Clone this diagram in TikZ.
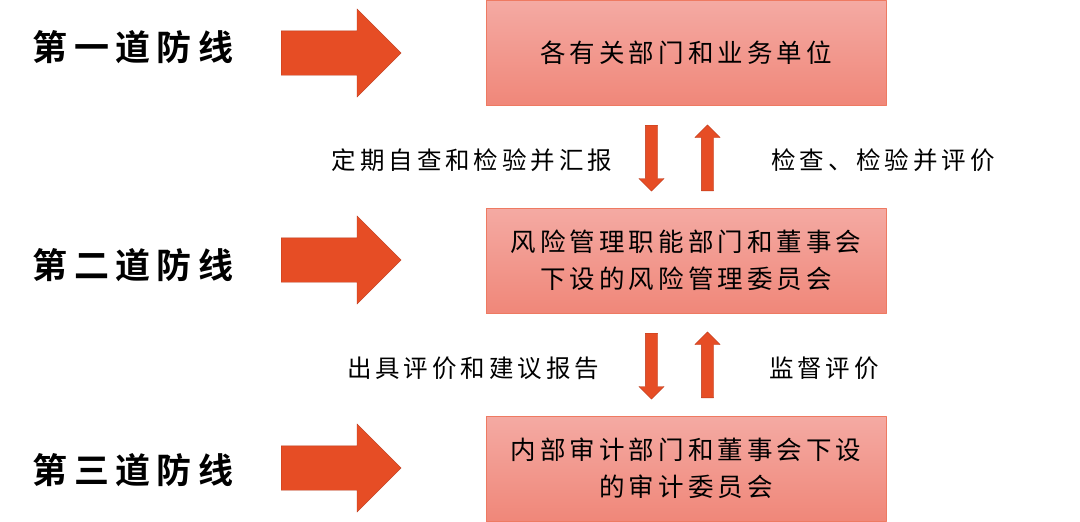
\documentclass[tikz,border=0pt]{standalone}
\usepackage{fontspec}
\usepackage{tikz}
\usetikzlibrary{shapes.arrows}
\setmainfont{Noto Sans CJK SC}
\newfontfamily\boxfont[LetterSpace=16]{Noto Sans CJK SC}
\newfontfamily\linefont[LetterSpace=18]{Noto Sans CJK SC}[BoldFont={* Bold}]
\definecolor{arrowred}{HTML}{E64D25}
\definecolor{arrowedge}{HTML}{B93A1C}
\definecolor{boxtop}{HTML}{F4AAA3}
\definecolor{boxbottom}{HTML}{F08779}
\definecolor{boxedge}{HTML}{EE7A62}

\begin{document}
\begin{tikzpicture}[
            x = 1pt, y = -1pt, % pixel coordinates
            line join = round
        ]

        \tikzstyle{unit}=[
            draw = boxedge,
            line width = 1pt,
            top color = boxtop,
            bottom color = boxbottom,
            minimum width = 400pt,
            minimum height = 105pt,
            align = center,
            font = \boxfont\fontsize{25.5pt}{37pt}\selectfont
        ]
        \tikzstyle{bigarrow}=[
            single arrow,
            draw = arrowedge,
            fill = arrowred,
            anchor = tail,
            inner xsep = 0pt,
            inner ysep = 22pt, % half the shaft
            minimum height = 120pt, % length
            single arrow head extend = 22pt
        ]
        \tikzstyle{smallarrow}=[
            single arrow,
            draw = arrowedge,
            fill = arrowred,
            anchor = tail,
            inner xsep = 0pt,
            inner ysep = 6pt,
            minimum height = 66pt,
            single arrow head extend = 6.5pt
        ]
        \tikzstyle{linename}=[font = \linefont\bfseries\fontsize{35pt}{35pt}\selectfont]
        \tikzstyle{report}=[font = \boxfont\fontsize{24.5pt}{28pt}\selectfont]

        \useasboundingbox (0,0) rectangle (1080,522);

        % the three lines of defence
        \node[linename] (l1) at (133,47) {第一道防线};
        \node[linename] (l2) at (133,265) {第二道防线};
        \node[linename] (l3) at (133,470) {第三道防线};

        \node[bigarrow] (a1) at (281,53) {};
        \node[bigarrow] (a2) at (281,260) {};
        \node[bigarrow] (a3) at (281,468) {};

        \node[unit] (u1) at (686,53) {各有关部门和业务单位};
        \node[unit] (u2) at (686,260.5) {风险管理职能部门和董事会\\下设的风险管理委员会};
        \node[unit] (u3) at (686,468.5) {内部审计部门和董事会下设\\的审计委员会};

        % reporting between the lines
        \node[smallarrow, rotate = -90] (d1) at (651.5,125) {};
        \node[smallarrow, rotate = 90] (p1) at (707.5,191) {};
        \node[smallarrow, rotate = -90] (d2) at (651.5,333) {};
        \node[smallarrow, rotate = 90] (p2) at (707.5,398) {};

        \node[report] (t1) at (472,160) {定期自查和检验并汇报};
        \node[report] (t2) at (883,160) {检查、检验并评价};
        \node[report] (t3) at (473,368) {出具评价和建议报告};
        \node[report] (t4) at (824,368) {监督评价};

  \end{tikzpicture}
\end{document}
